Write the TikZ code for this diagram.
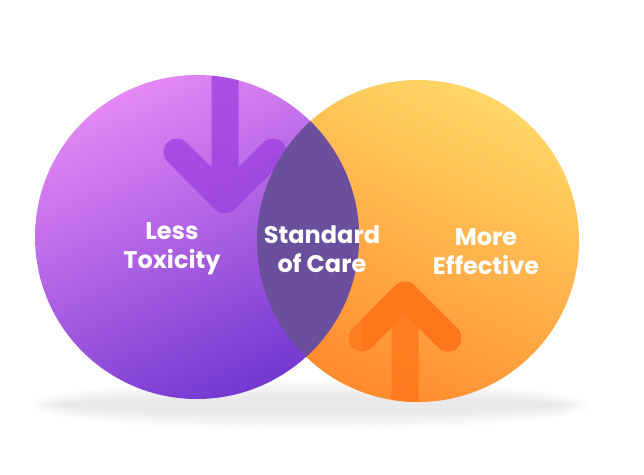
\documentclass[tikz,border=0pt]{standalone}
\usepackage{fontspec}
\setmainfont{Poppins}
\definecolor{pA}{HTML}{E488F5}
\definecolor{pB}{HTML}{7338D0}
\definecolor{oA}{HTML}{FFD766}
\definecolor{oB}{HTML}{FF8A2E}
\definecolor{lens}{HTML}{6A4F9C}
\definecolor{parrow}{HTML}{9A40E0}
\definecolor{oarrow}{HTML}{FF7418}
\tikzset{
  lbl/.style={text=white, font=\fontsize{24}{29}\selectfont\bfseries, align=center},
  arr/.style={line width=27pt, line cap=round, line join=round, opacity=0.75}
}
\begin{document}
\begin{tikzpicture}[x=1pt,y=-1pt]
\useasboundingbox (0,0) rectangle (644,474);
\foreach \i in {0,...,7}{
  \fill[gray, opacity=0.025] (310,405) ellipse ({250+4*\i} and {8+2.5*\i});
}
\coordinate (cp) at (197,237);
\coordinate (co) at (418,241);
\shade[top color=oA, bottom color=oB, shading angle=-25] (co) circle (161);
\begin{scope}
 \clip (co) circle (161);
 \draw[arr, draw=oarrow] (405,400) -- (405,295) (362,338) -- (405,295) -- (448,338);
\end{scope}
\shade[top color=pA, bottom color=pB, shading angle=25] (cp) circle (162);
\begin{scope}
 \clip (cp) circle (162);
 \draw[arr, draw=parrow] (225,70) -- (225,200) (177,152) -- (225,200) -- (273,152);
 \fill[lens] (co) circle (161);
\end{scope}
\begin{scope}
 \clip (co) circle (161);
 \clip (362,280) rectangle (460,400);
 \draw[arr, draw=oarrow, opacity=0.65] (362,338) -- (405,295) -- (448,338);
\end{scope}
\node[lbl] (lt) at (172,249) {Less\\Toxicity};
\node[lbl] (sc) at (322,249) {Standard\\of Care};
\node[lbl] (me) at (486,252) {More\\Effective};
\end{tikzpicture}
\end{document}
